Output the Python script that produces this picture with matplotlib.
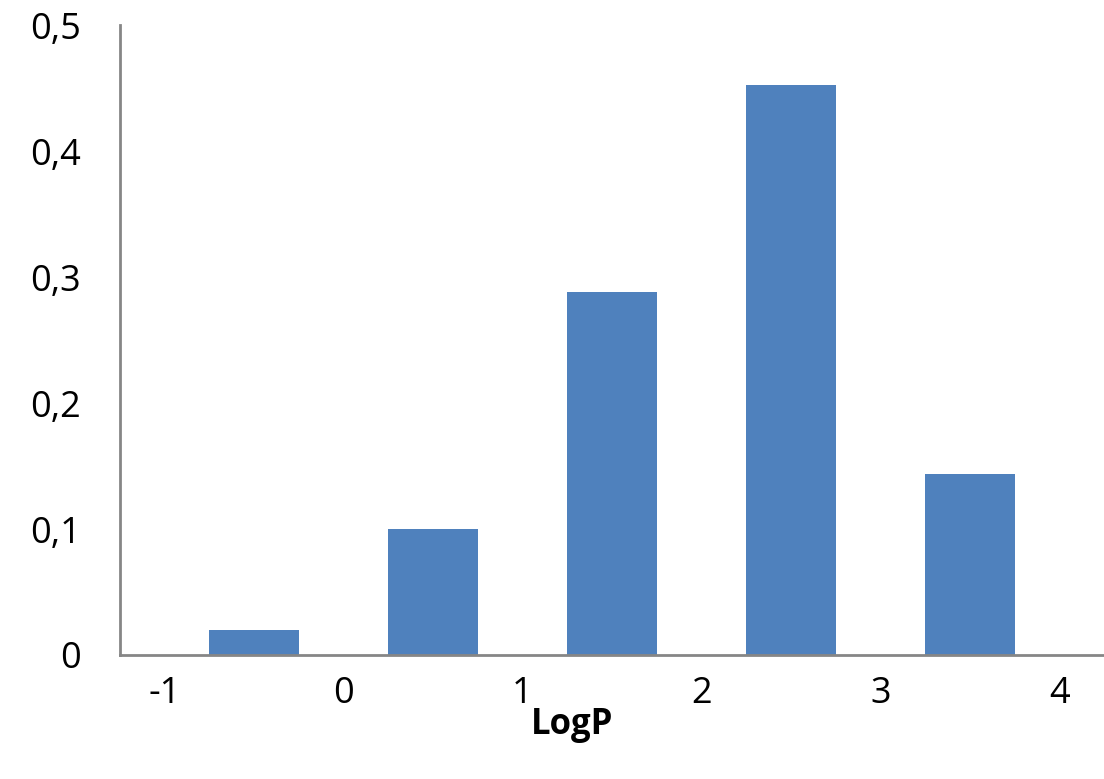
import matplotlib.pyplot as plt

# данные гистограммы LogP
bin_centers = [-0.5, 0.5, 1.5, 2.5, 3.5]
fractions = [0.02, 0.1, 0.288, 0.452, 0.144]
x_ticks = [-1, 0, 1, 2, 3, 4]
y_ticks = [0, 0.1, 0.2, 0.3, 0.4, 0.5]
y_labels = ['0', '0,1', '0,2', '0,3', '0,4', '0,5']

plt.rcParams['font.family'] = ['Open Sans', 'DejaVu Sans']

fig = plt.figure(figsize=(11.04, 7.79), dpi=100)
ax = fig.add_axes([120 / 1104, 124 / 779, 984 / 1104, 630 / 779])

ax.bar(bin_centers, fractions, width=0.5, color='#4F81BD')

ax.set_xlim(-1.25, 4.25)
ax.set_ylim(0, 0.5)
ax.set_xticks(x_ticks)
ax.set_xticklabels([str(t) for t in x_ticks])
ax.set_yticks(y_ticks)
ax.set_yticklabels(y_labels)
ax.tick_params(axis='both', length=0, labelsize=26)
ax.tick_params(axis='y', pad=28)
ax.tick_params(axis='x', pad=15)

for s in ['top', 'right']:
    ax.spines[s].set_visible(False)
for s in ['left', 'bottom']:
    ax.spines[s].set_color('#868686')
    ax.spines[s].set_linewidth(2)

ax.set_xlabel('LogP', fontsize=25, fontweight='bold')
ax.xaxis.set_label_coords(0.459, -0.111)
ax.xaxis.label.set_va('center')

fig.savefig('out.png', dpi=100)
